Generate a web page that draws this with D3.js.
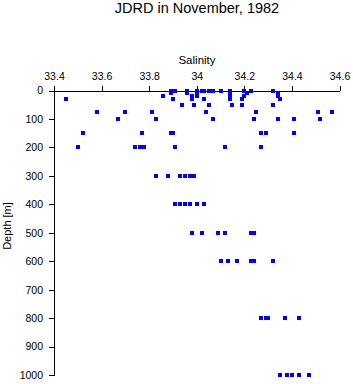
<!DOCTYPE html>
<html>
<head>
<meta charset="utf-8">
<script src="https://cdn.jsdelivr.net/npm/d3@7"></script>
<style>
  html, body { margin: 0; padding: 0; background: #fff; }
  svg { display: block; font-family: "Liberation Sans", Arial, Helvetica, sans-serif; }
</style>
</head>
<body>
<div id="chart"></div>
<script>
const title = "JDRD in November, 1982";
const xLabel = "Salinity";
const yLabel = "Depth [m]";
const xTicks = [33.4, 33.6, 33.8, 34.0, 34.2, 34.4, 34.6];
const xTickLabels = ["33.4", "33.6", "33.8", "34", "34.2", "34.4", "34.6"];
const yTicks = [0, 100, 200, 300, 400, 500, 600, 700, 800, 900, 1000];

// Observations: depth (m) and salinity, paired by index
const depth = [
  0,0,0,0,0,0,0,0,0,0,0,0,0,
  10,10,10,10,10,10,
  20,20,20,20,20,20,
  30,30,30,30,30,30,30,
  50,50,50,50,50,50,
  75,75,75,75,75,75,75,
  100,100,100,100,100,100,100,
  150,150,150,150,150,150,150,
  200,200,200,200,200,200,200,
  300,300,300,300,300,300,
  400,400,400,400,400,400,
  500,500,500,500,500,500,
  600,600,600,600,600,600,
  800,800,800,800,800,
  1000,1000,1000,1000,1000
];
const salinity = [
  33.89,33.91,33.96,34.00,34.02,34.03,34.05,34.07,34.10,34.14,34.20,34.23,34.32,
  33.89,33.96,34.00,34.14,34.21,34.34,
  33.86,33.98,34.00,34.14,34.20,34.34,
  33.45,33.90,33.98,34.03,34.14,34.19,34.35,
  33.94,33.99,34.05,34.15,34.19,34.32,
  33.58,33.70,33.81,34.04,34.25,34.51,34.57,
  33.67,33.83,34.07,34.24,34.34,34.41,34.52,
  33.52,33.77,33.89,33.90,34.27,34.29,34.41,
  33.50,33.74,33.76,33.78,33.91,34.12,34.27,
  33.83,33.88,33.93,33.95,33.97,33.99,
  33.91,33.93,33.95,33.97,34.00,34.03,
  33.98,34.02,34.09,34.12,34.23,34.24,
  34.10,34.13,34.17,34.23,34.24,34.32,
  34.27,34.29,34.30,34.37,34.43,
  34.35,34.38,34.40,34.43,34.47
];

const W = 353, H = 384;
const svg = d3.select("#chart").append("svg").attr("width", W).attr("height", H);

const x = d3.scaleLinear().domain([33.4, 34.6]).range([54, 339.5]);
const y = d3.scaleLinear().domain([0, 1000]).range([90.5, 375]);

svg.append("text").attr("x", 197).attr("y", 13).attr("text-anchor", "middle")
  .attr("font-size", 14.5).attr("fill", "#000").text(title);
svg.append("text").attr("x", 197).attr("y", 64).attr("text-anchor", "middle")
  .attr("font-size", 11.5).attr("fill", "#000").text(xLabel);
svg.append("text").attr("transform", "translate(11,226) rotate(-90)").attr("text-anchor", "middle")
  .attr("font-size", 11).attr("fill", "#000").text(yLabel);

const xAxis = svg.append("g").attr("transform", `translate(0,${y(0)})`)
  .call(d3.axisTop(x).tickValues(xTicks).tickFormat((d, i) => xTickLabels[i]).tickSize(5).tickSizeOuter(0).tickPadding(6));
const yAxis = svg.append("g").attr("transform", `translate(${x(33.4)},0)`)
  .call(d3.axisLeft(y).tickValues(yTicks).tickFormat(d3.format("d")).tickSize(5).tickSizeOuter(0).tickPadding(6));

[xAxis, yAxis].forEach(g => {
  g.selectAll("path, line").attr("stroke", "#000").attr("stroke-width", 1).attr("shape-rendering", "crispEdges");
  g.selectAll("text").attr("font-size", 10.5).attr("fill", "#000")
    .attr("font-family", "\"Liberation Sans\", Arial, sans-serif");
});

const pts = depth.map((d, i) => ({ d, s: salinity[i] }));
svg.append("g").selectAll("rect").data(pts).join("rect")
  .attr("x", p => Math.round(x(p.s)) - 2)
  .attr("y", p => Math.round(y(p.d)) - 2)
  .attr("width", 4).attr("height", 4)
  .attr("fill", "#0000ff").attr("shape-rendering", "crispEdges");
</script>
</body>
</html>
